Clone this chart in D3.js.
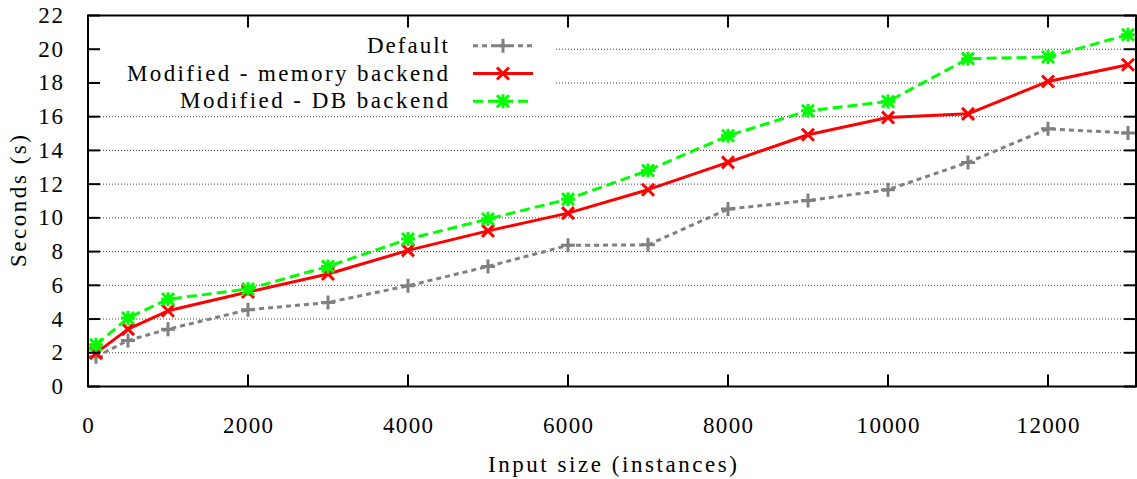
<!DOCTYPE html>
<html>
<head>
<meta charset="utf-8">
<script src="https://cdn.jsdelivr.net/npm/d3@7"></script>
<style>
  html, body { margin: 0; padding: 0; background: #fff; }
  svg { display: block; }
  svg text { font-family: "Liberation Serif", Tinos, "Times New Roman", serif; }
</style>
</head>
<body>
<svg id="chart" width="1137" height="479"></svg>
<script>
// ---- data ----
const inputSizes = [100, 500, 1000, 2000, 3000, 4000, 5000, 6000, 7000, 8000, 9000, 10000, 11000, 12000, 13000];
const defaultSeconds = [1.76, 2.73, 3.40, 4.55, 4.98, 5.97, 7.12, 8.37, 8.40, 10.52, 11.03, 11.67, 13.29, 15.28, 15.03];
const memorySeconds  = [1.98, 3.40, 4.49, 5.60, 6.67, 8.07, 9.23, 10.28, 11.67, 13.29, 14.93, 15.95, 16.17, 18.09, 19.08];
const dbSeconds      = [2.47, 4.06, 5.18, 5.78, 7.12, 8.74, 9.93, 11.11, 12.81, 14.87, 16.35, 16.90, 19.44, 19.54, 20.86];
const seriesNames = ["Default", "Modified - memory backend", "Modified - DB backend"];
const xTicks = [0, 2000, 4000, 6000, 8000, 10000, 12000];
const yTicks = [0, 2, 4, 6, 8, 10, 12, 14, 16, 18, 20, 22];
const xTitle = "Input size (instances)";
const yTitle = "Seconds (s)";

// ---- layout ----
const svg = d3.select("#chart");
const FONT = '"Liberation Serif", Tinos, serif';
const L = 88, R = 1136, T = 15.5, B = 386.5;
const x = d3.scaleLinear().domain([0, 13100]).range([L, R]);
const y = d3.scaleLinear().domain([0, 22]).range([B, T]);
const FS = 23;

const styles = [
  { color: "#808080", dash: "5,4", marker: "plus" },
  { color: "#ff0000", dash: null, marker: "cross" },
  { color: "#00ff00", dash: "10,5", marker: "star" }
];
const seriesData = [defaultSeconds, memorySeconds, dbSeconds];

function markerPath(type, cx, cy) {
  const s = 7, d = 6;
  const p = d3.path();
  if (type === "plus" || type === "star") {
    p.moveTo(cx - s, cy); p.lineTo(cx + s, cy);
    p.moveTo(cx, cy - s); p.lineTo(cx, cy + s);
  }
  if (type === "cross" || type === "star") {
    p.moveTo(cx - d, cy - d); p.lineTo(cx + d, cy + d);
    p.moveTo(cx - d, cy + d); p.lineTo(cx + d, cy - d);
  }
  return p.toString();
}
function charW(n) { return 12.75 * n - 0.8; }
function txt(sel) {
  return sel.append("text").style("font-family", FONT).attr("font-size", FS).attr("fill", "#000");
}

// ---- grid ----
const grid = svg.append("g");
yTicks.filter(v => v > 0 && v < 22).forEach(v => {
  grid.append("line")
    .attr("x1", L + 12).attr("x2", R - 12)
    .attr("y1", y(v)).attr("y2", y(v))
    .attr("stroke", "#000").attr("stroke-width", 1)
    .attr("stroke-dasharray", "1,2").attr("opacity", 0.75);
});

// ---- legend background ----
svg.append("rect").attr("x", L + 2).attr("y", 30).attr("width", 555 - L - 2).attr("height", 80).attr("fill", "#fff");

// ---- data lines ----
const lineGen = d3.line().x(d => x(d[0])).y(d => y(d[1]));
seriesData.forEach((vals, i) => {
  const pts = inputSizes.map((s, k) => [s, vals[k]]);
  const st = styles[i];
  svg.append("path").attr("d", lineGen(pts))
    .attr("fill", "none").attr("stroke", st.color).attr("stroke-width", 3)
    .attr("stroke-dasharray", st.dash).attr("stroke-linejoin", "round");
  svg.append("g").selectAll("path").data(pts).join("path")
    .attr("d", d => markerPath(st.marker, x(d[0]), y(d[1])))
    .attr("fill", "none").attr("stroke", st.color).attr("stroke-width", 3);
});

// ---- legend ----
const legendY = [45.7, 73.5, 101.2];
const legendW = [81, 321, 268];
seriesNames.forEach((name, i) => {
  const st = styles[i];
  txt(svg).attr("x", 448).attr("y", legendY[i] + 7).attr("text-anchor", "end")
    .attr("textLength", legendW[i]).attr("lengthAdjust", "spacing").text(name);
  svg.append("line").attr("x1", 473).attr("x2", 533).attr("y1", legendY[i]).attr("y2", legendY[i])
    .attr("stroke", st.color).attr("stroke-width", 3).attr("stroke-dasharray", st.dash);
  svg.append("path").attr("d", markerPath(st.marker, 503, legendY[i]))
    .attr("fill", "none").attr("stroke", st.color).attr("stroke-width", 3);
});

// ---- border and ticks ----
svg.append("rect").attr("x", L).attr("y", T).attr("width", R - L).attr("height", B - T)
  .attr("fill", "none").attr("stroke", "#000").attr("stroke-width", 2);
const ticks = svg.append("g").attr("stroke", "#000").attr("stroke-width", 2);
yTicks.forEach(v => {
  ticks.append("line").attr("x1", L).attr("x2", L + 12).attr("y1", y(v)).attr("y2", y(v));
  ticks.append("line").attr("x1", R - 12).attr("x2", R).attr("y1", y(v)).attr("y2", y(v));
});
xTicks.forEach(v => {
  ticks.append("line").attr("x1", x(v)).attr("x2", x(v)).attr("y1", B).attr("y2", B - 12);
  ticks.append("line").attr("x1", x(v)).attr("x2", x(v)).attr("y1", T).attr("y2", T + 12);
});

// ---- tick labels ----
yTicks.forEach(v => {
  const t = String(v);
  const el = txt(svg).attr("x", 63).attr("y", y(v) + 7.5).attr("text-anchor", "end").text(t);
  if (t.length > 1) el.attr("textLength", charW(t.length)).attr("lengthAdjust", "spacing");
});
xTicks.forEach(v => {
  const t = String(v);
  const el = txt(svg).attr("x", x(v)).attr("y", 433).attr("text-anchor", "middle").text(t);
  if (t.length > 1) el.attr("textLength", charW(t.length)).attr("lengthAdjust", "spacing");
});

// ---- axis titles ----
txt(svg).attr("x", 612.5).attr("y", 471.5).attr("text-anchor", "middle")
  .attr("textLength", 249).attr("lengthAdjust", "spacing").text(xTitle);
txt(svg).attr("transform", "translate(26,201) rotate(-90)").attr("text-anchor", "middle")
  .attr("textLength", 132).attr("lengthAdjust", "spacing").text(yTitle);
</script>
</body>
</html>
